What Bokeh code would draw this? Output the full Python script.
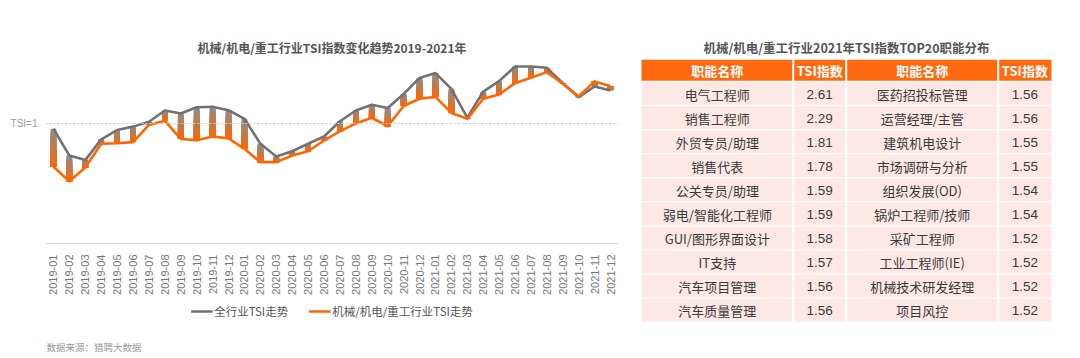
import math
from bokeh.plotting import figure
from bokeh.models import (Range1d, Span, FixedTicker, Legend, LegendItem, Label,
                          Title)
from bokeh.layouts import row, column
from bokeh.core.properties import value
from bokeh.embed import file_html
from bokeh.resources import INLINE

# ---------------- data ----------------
months = ["2019-01", "2019-02", "2019-03", "2019-04", "2019-05", "2019-06",
          "2019-07", "2019-08", "2019-09", "2019-10", "2019-11", "2019-12",
          "2020-01", "2020-02", "2020-03", "2020-04", "2020-05", "2020-06",
          "2020-07", "2020-08", "2020-09", "2020-10", "2020-11", "2020-12",
          "2021-01", "2021-02", "2021-03", "2021-04", "2021-05", "2021-06",
          "2021-07", "2021-08", "2021-09", "2021-10", "2021-11", "2021-12"]
all_tsi = [0.956, 0.733, 0.695, 0.868, 0.945, 0.974, 1.015, 1.108, 1.084, 1.136,
           1.139, 1.111, 1.039, 0.831, 0.725, 0.769, 0.831, 0.892, 1.019, 1.108,
           1.157, 1.130, 1.246, 1.380, 1.420, 1.289, 1.049, 1.265, 1.353, 1.475,
           1.475, 1.464, 1.336, 1.219, 1.308, 1.275]
mech_tsi = [0.639, 0.519, 0.633, 0.831, 0.836, 0.845, 0.988, 1.022, 0.872, 0.861,
            0.892, 0.876, 0.789, 0.678, 0.678, 0.733, 0.769, 0.858, 0.936, 1.000,
            1.048, 0.977, 1.146, 1.206, 1.222, 1.088, 1.039, 1.206, 1.242, 1.336,
            1.381, 1.428, 1.331, 1.225, 1.351, 1.310]
series_names = ["全行业TSI走势", "机械/机电/重工行业TSI走势"]

names_left = ["电气工程师", "销售工程师", "外贸专员/助理", "销售代表", "公关专员/助理",
              "弱电/智能化工程师", "GUI/图形界面设计", "IT支持", "汽车项目管理", "汽车质量管理"]
tsi_left = [2.61, 2.29, 1.81, 1.78, 1.59, 1.59, 1.58, 1.57, 1.56, 1.56]
names_right = ["医药招投标管理", "运营经理/主管", "建筑机电设计", "市场调研与分析", "组织发展(OD)",
               "锅炉工程师/技师", "采矿工程师", "工业工程师(IE)", "机械技术研发经理", "项目风控"]
tsi_right = [1.56, 1.56, 1.55, 1.55, 1.54, 1.54, 1.52, 1.52, 1.52, 1.52]
headers = ["职能名称", "TSI指数", "职能名称", "TSI指数"]

chart_title = "机械/机电/重工行业TSI指数变化趋势2019-2021年"
table_title = "机械/机电/重工行业2021年TSI指数TOP20职能分布"
source_note = "数据来源：猎聘大数据"

# ---------------- styles ----------------
CJK = "Noto Sans CJK SC"
LAT = "Liberation Sans"
GRAY = (114, 114, 114)
BAR_TOP = (140, 140, 140)
ORANGE = (255, 102, 0)


def hexc(c):
    return "#%02x%02x%02x" % c


# ---------------- left chart ----------------
xs = list(range(len(months)))
p = figure(width=633, height=300, output_backend="svg",
           toolbar_location=None, x_range=Range1d(-0.5, 35.5),
           y_range=Range1d(0, 1.5), min_border_left=45, min_border_right=15,
           min_border_top=63, min_border_bottom=57)
p.outline_line_color = None
p.grid.visible = False

# gradient bars between the two lines: overlapping bars, each one starting a bit
# further from the gray line and a bit more orange
N = 16
bx, btop, bbot, bcol = [], [], [], []
for k in range(N):
    f = k / N
    c = tuple(int(round(BAR_TOP[j] + (ORANGE[j] - BAR_TOP[j]) * (k + 0.5) / N))
              for j in range(3))
    for i in xs:
        a, b = all_tsi[i], mech_tsi[i]
        y0 = a + (b - a) * f
        bx.append(i)
        btop.append(max(y0, b))
        bbot.append(min(y0, b))
        bcol.append(hexc(c))
p.vbar(x=bx, top=btop, bottom=bbot, width=0.36, fill_color=bcol, line_color=None)

p.add_layout(Span(location=1, dimension="width", line_color="#cccccc",
                  line_dash="2 2", line_width=1))

p.line(xs, all_tsi, line_color=hexc(GRAY), line_width=2.6, line_join="round")
p.line(xs, mech_tsi, line_color=hexc(ORANGE), line_width=2.6, line_join="round")

xa = p.xaxis[0]
xa.ticker = FixedTicker(ticks=xs)
xa.major_label_overrides = {i: m for i, m in enumerate(months)}
xa.major_label_orientation = math.pi / 2
xa.major_tick_line_color = None
xa.minor_tick_line_color = None
xa.axis_line_color = "#d9d9d9"
xa.major_label_text_color = "#777777"
xa.major_label_text_font = LAT
xa.major_label_text_font_size = "11px"
xa.major_label_standoff = 5

ya = p.yaxis[0]
ya.ticker = FixedTicker(ticks=[1])
ya.major_label_overrides = {1: "TSI=1"}
ya.axis_line_color = None
ya.major_tick_line_color = None
ya.minor_tick_line_color = None
ya.major_label_text_color = "#999999"
ya.major_label_text_font = LAT
ya.major_label_text_font_size = "10px"
ya.major_label_standoff = 2

p.title = Title(text=chart_title, align="center", text_font_size="12px",
                text_font_style="bold", text_color="#555555", text_font=CJK,
                standoff=16)

# ---------------- legend + source strip ----------------
leg = figure(width=633, height=58, output_backend="svg", toolbar_location=None,
             x_range=Range1d(45, 618), y_range=Range1d(0, 58),
             min_border_left=45, min_border_right=15, min_border_top=0,
             min_border_bottom=0, x_axis_location=None, y_axis_location=None)
leg.outline_line_color = None
leg.grid.visible = False
leg.extra_y_ranges = {"off": Range1d(100, 200)}
l_all = leg.line(xs, all_tsi, line_color=hexc(GRAY), line_width=2.6,
                 y_range_name="off")
l_mech = leg.line(xs, mech_tsi, line_color=hexc(ORANGE), line_width=2.6,
                  y_range_name="off")
legend = Legend(items=[LegendItem(label=series_names[0], renderers=[l_all]),
                       LegendItem(label=series_names[1], renderers=[l_mech])],
                orientation="horizontal", location="top_center", margin=3,
                padding=0, spacing=20, label_standoff=2, glyph_width=22,
                glyph_height=12, label_text_font_size="11.5px",
                label_text_color="#555555", label_text_font=CJK,
                background_fill_alpha=0, border_line_color=None)
leg.add_layout(legend, "center")
leg.add_layout(Label(x=46, y=12, text=source_note, text_font_size="9.5px",
                     text_color="#999999", text_font=CJK, text_baseline="middle"))

# ---------------- right table ----------------
TOP, H = 0, 358
t = figure(width=447, height=H, output_backend="svg", toolbar_location=None,
           x_range=Range1d(633, 1080), y_range=Range1d(0, H), min_border=0,
           x_axis_location=None, y_axis_location=None)
t.outline_line_color = None
t.grid.visible = False


def ty_(py):
    return TOP + H - py


edges = [641, 792.7, 845.7, 997.7, 1051]
head_top, head_bot = 59.3, 81.0
row_h = 24.07
gap_x, gap_y = 1.0, 0.75

hl, hr, ht, hb = [], [], [], []
for c in range(4):
    hl.append(edges[c] + (gap_x if c > 0 else 0))
    hr.append(edges[c + 1] - (gap_x if c < 3 else 0))
    ht.append(ty_(head_top))
    hb.append(ty_(head_bot - gap_y))
t.quad(left=hl, right=hr, top=ht, bottom=hb, fill_color="#FF6A10", line_color=None)
t.text(x=[(edges[c] + edges[c + 1]) / 2 for c in range(4)],
       y=[ty_((head_top + head_bot) / 2)] * 4, text=headers, text_align="center",
       text_baseline="middle", text_font=value(CJK), text_font_size=value("13px"),
       text_font_style="bold", text_color="white")

cl, cr, ct, cb = [], [], [], []
for c in range(4):
    for i in range(len(names_left)):
        top = head_bot + i * row_h
        cl.append(edges[c] + (gap_x if c > 0 else 0))
        cr.append(edges[c + 1] - (gap_x if c < 3 else 0))
        ct.append(ty_(top + gap_y))
        cb.append(ty_(top + row_h - gap_y))
t.quad(left=cl, right=cr, top=ct, bottom=cb, fill_color="#FDE8E6", line_color=None)

for c, col, font in [(0, names_left, CJK), (1, ["%.2f" % v for v in tsi_left], LAT),
                     (2, names_right, CJK), (3, ["%.2f" % v for v in tsi_right], LAT)]:
    t.text(x=[(edges[c] + edges[c + 1]) / 2] * len(col),
           y=[ty_(head_bot + i * row_h + row_h / 2 + 0.5) for i in range(len(col))],
           text=col, text_align="center", text_baseline="middle",
           text_font=value(font), text_font_size=value("13.5px" if font == LAT else "13px"),
           text_color="#3a3a3a")

t.add_layout(Label(x=(edges[0] + edges[-1]) / 2, y=ty_(47.3), text=table_title,
                   text_align="center", text_baseline="middle", text_font=CJK,
                   text_font_size="12.5px", text_font_style="bold",
                   text_color="#555555"))

layout = row(column(p, leg), t)
open("out.html", "w").write(file_html(layout, INLINE))
